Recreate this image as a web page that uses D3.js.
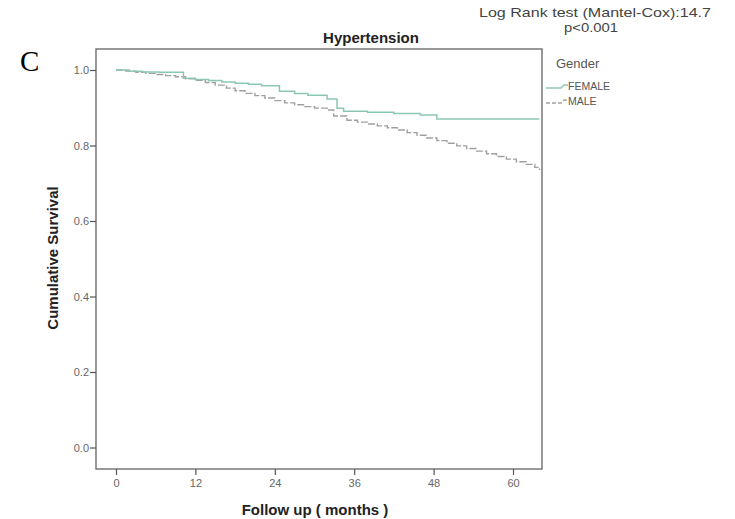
<!DOCTYPE html>
<html>
<head>
<meta charset="utf-8">
<script src="https://cdn.jsdelivr.net/npm/d3@7"></script>
<style>
  html, body { margin: 0; padding: 0; background: #fff; }
  svg { display: block; }
</style>
</head>
<body>
<svg id="chart" width="735" height="519"></svg>
<script>
// ---- data ----
const xTicks = [0, 12, 24, 36, 48, 60];
const xTickLabels = ["0", "12", "24", "36", "48", "60"];
const yTicks = [0.0, 0.2, 0.4, 0.6, 0.8, 1.0];
const yTickLabels = ["0.0", "0.2", "0.4", "0.6", "0.8", "1.0"];

const femaleTime = [0, 2, 4, 6.6, 10.2, 12, 14, 16, 18, 20, 22, 24.7, 27, 29, 31.9, 33.4, 34.4, 38, 42, 46, 48.5, 64];
const femaleSurv = [1.0, 0.997, 0.995, 0.994, 0.978, 0.975, 0.972, 0.968, 0.965, 0.962, 0.958, 0.944, 0.938, 0.933, 0.923, 0.899, 0.891, 0.888, 0.885, 0.881, 0.870, 0.870];

const maleTime = [0, 1.5, 3, 4.5, 6, 7.5, 9, 10.5, 12, 13.5, 15, 16.7, 18, 19.5, 21, 22.5, 24, 25.5, 27, 28.5, 30, 31.9, 32.9, 34.9, 36.5, 38, 39.5, 41, 42.5, 44, 45.5, 47, 48.5, 50, 51.5, 53, 54.5, 56, 57.5, 59, 60.5, 62, 63.3, 64];
const maleSurv = [1.0, 0.997, 0.994, 0.991, 0.988, 0.985, 0.982, 0.977, 0.973, 0.967, 0.960, 0.952, 0.945, 0.938, 0.932, 0.926, 0.919, 0.913, 0.908, 0.903, 0.899, 0.894, 0.878, 0.867, 0.862, 0.857, 0.852, 0.847, 0.841, 0.834, 0.827, 0.820, 0.813, 0.806, 0.799, 0.792, 0.785, 0.778, 0.771, 0.764, 0.757, 0.750, 0.742, 0.735];

const seriesNames = ["FEMALE", "MALE"];
const seriesColors = ["#8cc7b4", "#a0a0a0"];

// ---- layout ----
const svg = d3.select("#chart");
const frame = { left: 96, right: 542, top: 49, bottom: 469 };
const sans = "Liberation Sans, Arial, sans-serif";

const x = d3.scaleLinear().domain([0, 60]).range([116, 513]);
const y = d3.scaleLinear().domain([0, 1]).range([447.5, 70]);

// plot frame
svg.append("rect")
  .attr("x", frame.left).attr("y", frame.top)
  .attr("width", frame.right - frame.left).attr("height", frame.bottom - frame.top)
  .attr("fill", "#fff").attr("stroke", "#6e6e6e").attr("stroke-width", 1.4);

// y axis
const yAxis = d3.axisLeft(y).tickValues(yTicks).tickSize(6)
  .tickFormat((d, i) => yTickLabels[i]);
const gy = svg.append("g").attr("transform", `translate(${frame.left},0)`).call(yAxis);
gy.select(".domain").remove();
gy.selectAll(".tick line").attr("stroke", "#555").attr("stroke-width", 1.2);
gy.selectAll(".tick text").attr("fill", "#666").attr("font-family", sans).attr("font-size", 11).attr("x", -7);

// x axis
const xAxis = d3.axisBottom(x).tickValues(xTicks).tickSize(6)
  .tickFormat((d, i) => xTickLabels[i]);
const gx = svg.append("g").attr("transform", `translate(0,${frame.bottom})`).call(xAxis);
gx.select(".domain").remove();
gx.selectAll(".tick line").attr("stroke", "#555").attr("stroke-width", 1.2);
gx.selectAll(".tick text").attr("fill", "#666").attr("font-family", sans).attr("font-size", 11).attr("dy", "0.85em");

// curves (Kaplan-Meier step functions)
svg.append("clipPath").attr("id", "clip")
  .append("rect").attr("x", frame.left).attr("y", frame.top)
  .attr("width", frame.right - frame.left).attr("height", frame.bottom - frame.top);

const line = d3.line().x(d => x(d[0])).y(d => y(d[1])).curve(d3.curveStepAfter);
const maleData = maleTime.map((t, i) => [t, maleSurv[i]]);
const femaleData = femaleTime.map((t, i) => [t, femaleSurv[i]]);

svg.append("path").datum(maleData)
  .attr("d", line).attr("fill", "none")
  .attr("stroke", seriesColors[1]).attr("stroke-width", 1.4)
  .attr("stroke-dasharray", "7,2")
  .attr("clip-path", "url(#clip)");
svg.append("path").datum(femaleData)
  .attr("d", line).attr("fill", "none")
  .attr("stroke", seriesColors[0]).attr("stroke-width", 1.5)
  .attr("clip-path", "url(#clip)");

// title
svg.append("text").attr("x", 371).attr("y", 43).attr("text-anchor", "middle")
  .attr("font-family", sans).attr("font-size", 15).attr("font-weight", "bold")
  .attr("fill", "#222").text("Hypertension");

// axis titles
svg.append("text").attr("x", 315).attr("y", 515).attr("text-anchor", "middle")
  .attr("font-family", sans).attr("font-size", 15).attr("font-weight", "bold")
  .attr("fill", "#222").text("Follow up ( months )");
svg.append("text").attr("transform", "translate(58,258) rotate(-90)").attr("text-anchor", "middle")
  .attr("font-family", sans).attr("font-size", 15).attr("font-weight", "bold")
  .attr("fill", "#222").text("Cumulative Survival");

// panel label
svg.append("text").attr("x", 20).attr("y", 71)
  .attr("font-family", "Liberation Serif, Times New Roman, serif").attr("font-size", 29)
  .attr("fill", "#000").text("C");

// log-rank annotation
svg.append("text").attr("x", 595).attr("y", 17).attr("text-anchor", "middle")
  .attr("font-family", sans).attr("font-size", 13.5)
  .attr("textLength", 232).attr("lengthAdjust", "spacingAndGlyphs")
  .attr("fill", "#444").text("Log Rank test (Mantel-Cox):14.7");
svg.append("text").attr("x", 591).attr("y", 32).attr("text-anchor", "middle")
  .attr("font-family", sans).attr("font-size", 13.5)
  .attr("textLength", 54).attr("lengthAdjust", "spacingAndGlyphs")
  .attr("fill", "#444").text("p<0.001");

// legend
svg.append("text").attr("x", 556).attr("y", 68)
  .attr("font-family", sans).attr("font-size", 13)
  .attr("fill", "#555").text("Gender");
const legendY = [86, 101];
seriesNames.forEach((name, i) => {
  const ly = legendY[i];
  svg.append("path")
    .attr("d", `M546,${ly + 2} L561,${ly + 2} L564,${ly - 1} L568,${ly - 1}`)
    .attr("fill", "none").attr("stroke", seriesColors[i]).attr("stroke-width", 1.3)
    .attr("stroke-dasharray", i === 1 ? "4,2" : null);
  svg.append("text").attr("x", 568).attr("y", ly + 4)
    .attr("font-family", sans).attr("font-size", 10.5)
    .attr("fill", "#555").text(name);
});
</script>
</body>
</html>
